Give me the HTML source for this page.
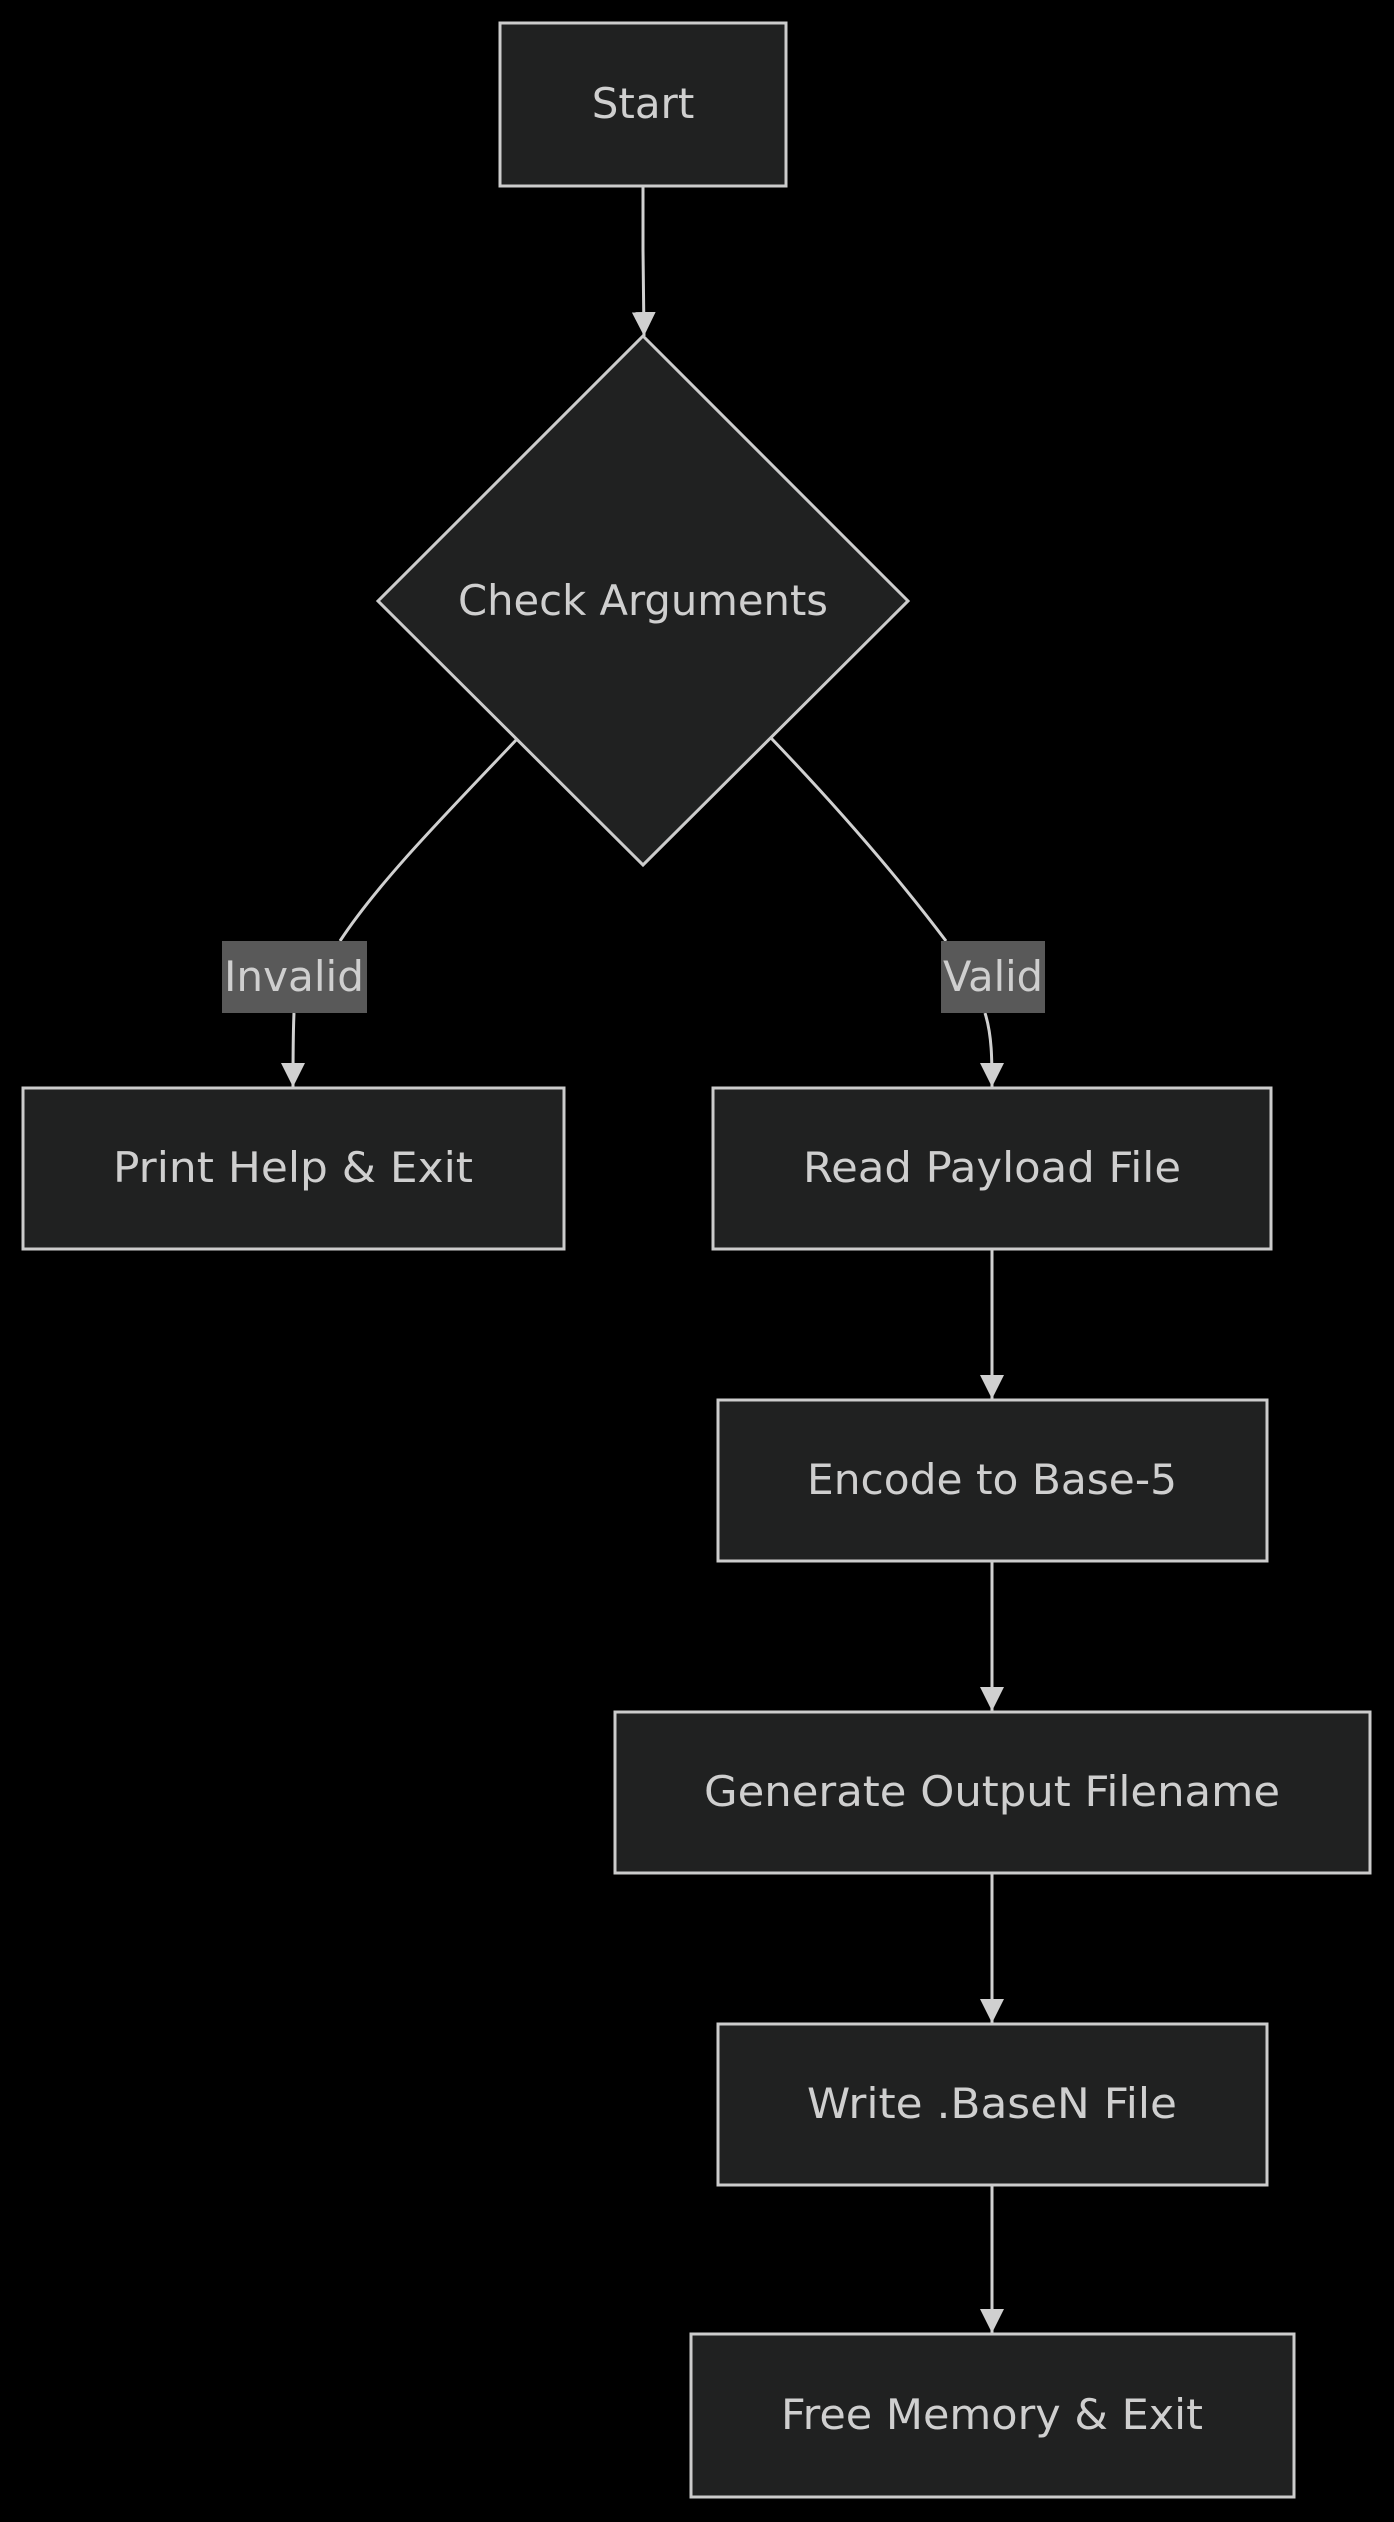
<!DOCTYPE html>
<html><head><meta charset="utf-8"><style>
html,body{margin:0;padding:0;background:#000;}
svg{display:block}
text{font-family:"DejaVu Sans","Liberation Sans",sans-serif;fill:#cfcfcf;font-size:42px;}
.n{fill:#202121;stroke:#cccccc;stroke-width:3}
.e{fill:none;stroke:#d0d0d0;stroke-width:3}
</style></head><body>
<svg width="1394" height="2522" viewBox="0 0 1394 2522">
<defs><marker id="a" markerWidth="10" markerHeight="10" refX="9" refY="5" orient="auto" markerUnits="userSpaceOnUse" viewBox="0 0 10 10"><path d="M0,0 L10,5 L0,10z" fill="#d0d0d0"/></marker>
<marker id="b" viewBox="0 0 10 10" refX="10" refY="5" markerWidth="24" markerHeight="24" orient="auto" markerUnits="userSpaceOnUse"><path d="M0,0 L10,5 L0,10z" fill="#d0d0d0"/></marker></defs>

<path class="e" d="M643,187 L643,250 L644,336" marker-end="url(#b)"/>
<path class="e" d="M518,738 C450,810 380,880 340,941 M294,1013 C293,1035 293,1060 293,1087" marker-end="url(#b)"/>
<path class="e" d="M771,738 C840,810 900,880 946,941 M985,1013 C992,1035 992,1060 992,1087" marker-end="url(#b)"/>
<path class="e" d="M992,1249 L992,1399" marker-end="url(#b)"/>
<path class="e" d="M992,1561 L992,1711" marker-end="url(#b)"/>
<path class="e" d="M992,1873 L992,2023" marker-end="url(#b)"/>
<path class="e" d="M992,2185 L992,2333" marker-end="url(#b)"/>

<rect class="n" x="500" y="23" width="286" height="163"/>
<text x="643" y="118" text-anchor="middle">Start</text>
<polygon class="n" points="643,336 908,601 643,865 378,601"/>
<text x="643" y="615" text-anchor="middle" textLength="370" lengthAdjust="spacingAndGlyphs">Check Arguments</text>

<rect x="222" y="941" width="145" height="72" fill="#595959"/>
<text x="294" y="991" text-anchor="middle" textLength="140" lengthAdjust="spacingAndGlyphs">Invalid</text>
<rect x="941" y="941" width="104" height="72" fill="#595959"/>
<text x="993" y="991" text-anchor="middle" textLength="100" lengthAdjust="spacingAndGlyphs">Valid</text>

<rect class="n" x="23" y="1088" width="541" height="161"/>
<text x="293" y="1182" text-anchor="middle" textLength="360" lengthAdjust="spacingAndGlyphs">Print Help &amp; Exit</text>
<rect class="n" x="713" y="1088" width="558" height="161"/>
<text x="992" y="1182" text-anchor="middle" textLength="378" lengthAdjust="spacingAndGlyphs">Read Payload File</text>
<rect class="n" x="718" y="1400" width="549" height="161"/>
<text x="992" y="1494" text-anchor="middle" textLength="370" lengthAdjust="spacingAndGlyphs">Encode to Base-5</text>
<rect class="n" x="615" y="1712" width="755" height="161"/>
<text x="992" y="1806" text-anchor="middle" textLength="576" lengthAdjust="spacingAndGlyphs">Generate Output Filename</text>
<rect class="n" x="718" y="2024" width="549" height="161"/>
<text x="992" y="2118" text-anchor="middle" textLength="370" lengthAdjust="spacingAndGlyphs">Write .BaseN File</text>
<rect class="n" x="691" y="2334" width="603" height="163"/>
<text x="992" y="2429" text-anchor="middle" textLength="422" lengthAdjust="spacingAndGlyphs">Free Memory &amp; Exit</text>
</svg>
</body></html>
